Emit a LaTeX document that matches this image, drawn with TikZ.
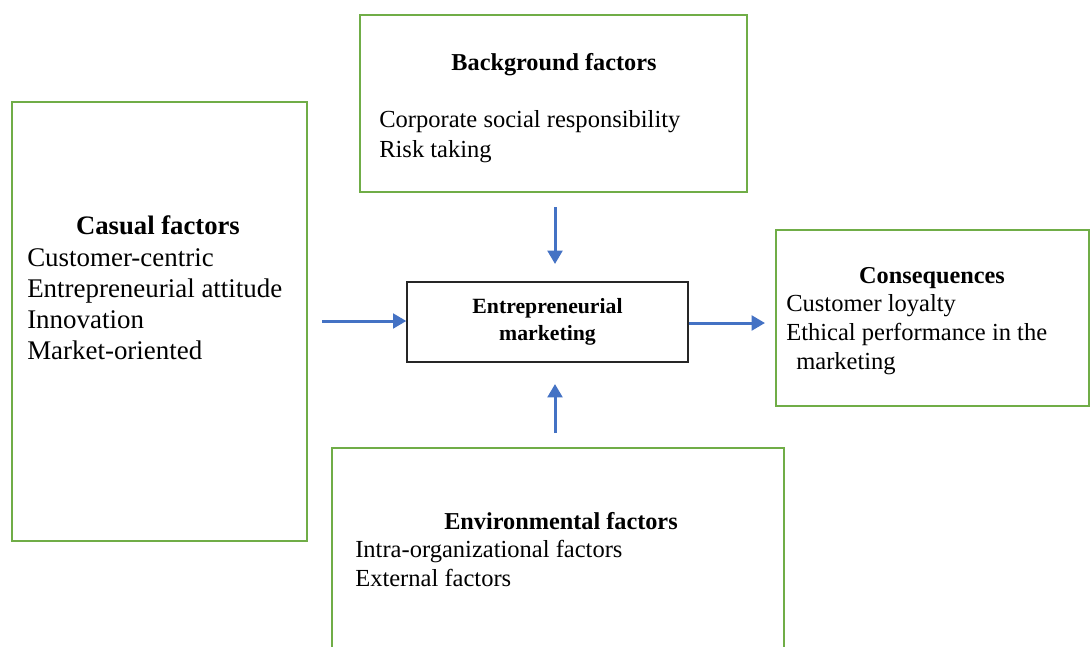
\documentclass[tikz,border=0pt]{standalone}
\usepackage{fontspec}
\setmainfont{Liberation Serif}
\usetikzlibrary{arrows.meta}
\definecolor{boxgreen}{HTML}{70AD47}
\definecolor{arrblue}{HTML}{4472C4}
\tikzset{
  gbox/.style={draw=boxgreen, line width=1.5pt, inner sep=0pt, fill=white},
  embox/.style={draw=black!85, line width=1pt, inner sep=0pt, align=center, font=\fontsize{16.3}{20.5}\selectfont\bfseries},
  txt/.style={anchor=base west, inner sep=0pt, font=\fontsize{18.4}{22}\selectfont},
  bigtxt/.style={anchor=base west, inner sep=0pt, font=\fontsize{20.2}{24}\selectfont},
  head/.style={anchor=base, inner sep=0pt, font=\fontsize{18.2}{22}\selectfont\bfseries},
  bighead/.style={anchor=base, inner sep=0pt, font=\fontsize{20}{24}\selectfont\bfseries},
  arr/.style={draw=arrblue, line width=2.25pt, -{Triangle[width=11pt,length=10pt]}}
}
\begin{document}
\begin{tikzpicture}[x=0.75pt,y=-0.75pt]
\useasboundingbox (0,0) rectangle (1091,646);
\clip (0,0) rectangle (1091,646);
% boxes
\node[gbox, minimum width=290.25pt, minimum height=132.75pt] (bg) at (553.5,103.5) {};
\node[gbox, minimum width=221.25pt, minimum height=329.25pt] (cas) at (159.5,321.5) {};
\node[gbox, minimum width=234.75pt, minimum height=132pt] (cons) at (932.5,318) {};
\node[gbox, minimum width=339pt, minimum height=159pt] (env) at (558,554) {};
\node[embox, minimum width=210.75pt, minimum height=60pt] (em) at (547.5,322) {Entrepreneurial\\marketing};
% background factors text
\node[head] (bgh) at (554,70) {Background factors};
\node[txt] (bg1) at (379,127) {Corporate social responsibility};
\node[txt] (bg2) at (379,157) {Risk taking};
% casual factors text
\node[bighead] (cash) at (158,234) {Casual factors};
\node[bigtxt] (cas1) at (27,266.5) {Customer-centric};
\node[bigtxt] (cas2) at (27,297.5) {Entrepreneurial attitude};
\node[bigtxt] (cas3) at (27,328.5) {Innovation};
\node[bigtxt] (cas4) at (27,359.5) {Market-oriented};
% consequences text
\node[head] (consh) at (932,283) {Consequences};
\node[txt] (cons1) at (786,311.5) {Customer loyalty};
\node[txt] (cons2) at (786,340) {Ethical performance in the};
\node[txt] (cons3) at (796,369) {marketing};
% environmental factors text
\node[head] (envh) at (561,529) {Environmental factors};
\node[txt] (env1) at (355,557.5) {Intra-organizational factors};
\node[txt] (env2) at (355,586.5) {External factors};
% arrows
\coordinate (la) at (322,321);
\coordinate (ta) at (555,207);
\coordinate (tb) at (555,264);
\coordinate (ba) at (555,433);
\coordinate (bb) at (555,384);
\coordinate (rb) at (765,323);
\draw[arr] (la) -- (em.west |- la);
\draw[arr] (ta) -- (tb);
\draw[arr] (ba) -- (bb);
\draw[arr] (em.east |- rb) -- (rb);
\end{tikzpicture}
\end{document}
